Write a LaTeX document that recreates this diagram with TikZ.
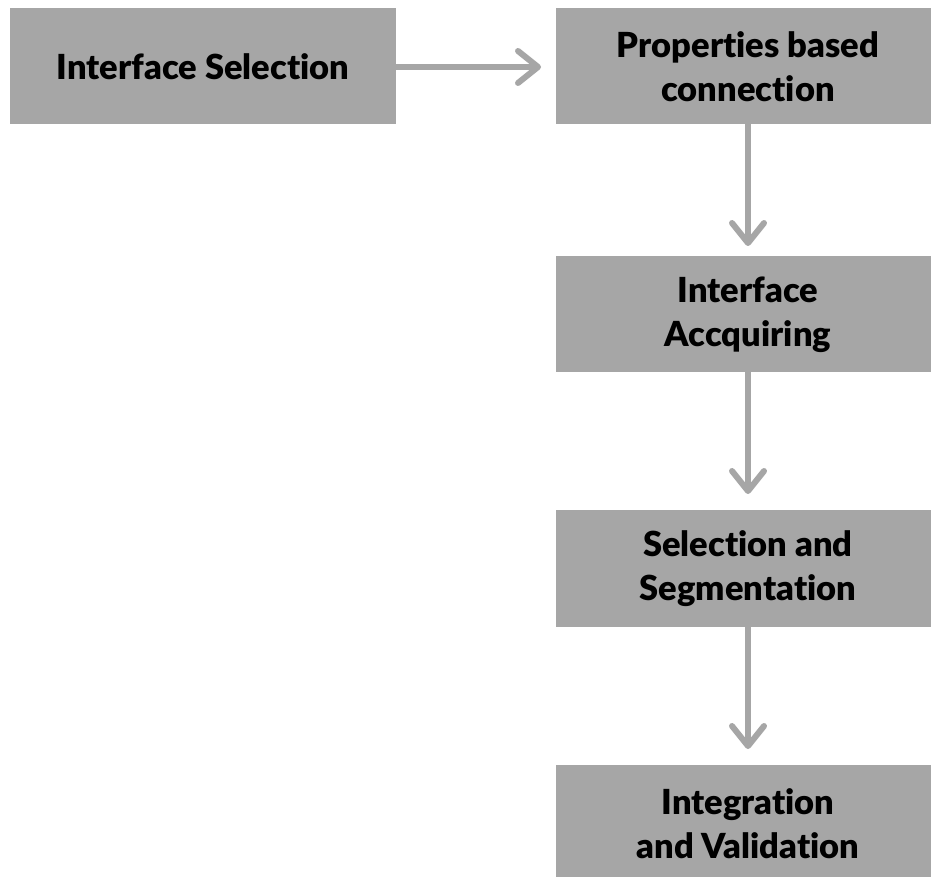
\documentclass[tikz,border=0pt]{standalone}
\usepackage{fontspec}
\newfontfamily\boxfont[Ligatures=NoCommon]{Lato Black}
\usetikzlibrary{arrows.meta}
\definecolor{boxgrey}{HTML}{A6A6A6}
\begin{document}
\begin{tikzpicture}[x=1pt,y=-1pt,
  boxtext/.style={inner sep=0pt, align=center,
    font=\boxfont\fontsize{34.5}{44}\selectfont, text=black},
  stepbox/.style={fill=boxgrey, draw=none, inner sep=0pt},
  flow/.style={draw=boxgrey, line width=6pt, line cap=round,
    -{Straight Barb[length=20pt, width=32pt, line width=6pt, round]}}]
\useasboundingbox (0,0) rectangle (931,877);
\fill[white] (0,0) rectangle (931,877);
\path[clip] (0,0) rectangle (931,877);
% grey step boxes
\node[stepbox, minimum width=386pt, minimum height=116pt] (sel) at (203,66) {};
\node[stepbox, minimum width=376pt, minimum height=116pt] (prop) at (744,66) {};
\node[stepbox, minimum width=376pt, minimum height=116pt] (acq) at (744,314) {};
\node[stepbox, minimum width=376pt, minimum height=117pt] (seg) at (744,568.5) {};
\node[stepbox, minimum width=376pt, minimum height=126pt] (val) at (744,828) {};
% labels
\node[boxtext] (seltxt) at (203,67) {Interface Selection};
\node[boxtext] (proptxt) at (748,67) {Properties based\\connection};
\node[boxtext] (acqtxt) at (748,315) {Interface\\Accquiring};
\node[boxtext] (segtxt) at (748,569) {Selection and\\Segmentation};
\node[boxtext] (valtxt) at (748,824) {Integration\\and Validation};
% connectors
\coordinate (t1) at (541,67);
\coordinate (t2) at (748,246);
\coordinate (t3) at (748,494);
\coordinate (t4) at (748,749);
\draw[flow] (sel.east |- t1) -- (t1);
\draw[flow] (prop.south -| t2) -- (t2);
\draw[flow] (acq.south -| t3) -- (t3);
\draw[flow] (seg.south -| t4) -- (t4);
\end{tikzpicture}
\end{document}
